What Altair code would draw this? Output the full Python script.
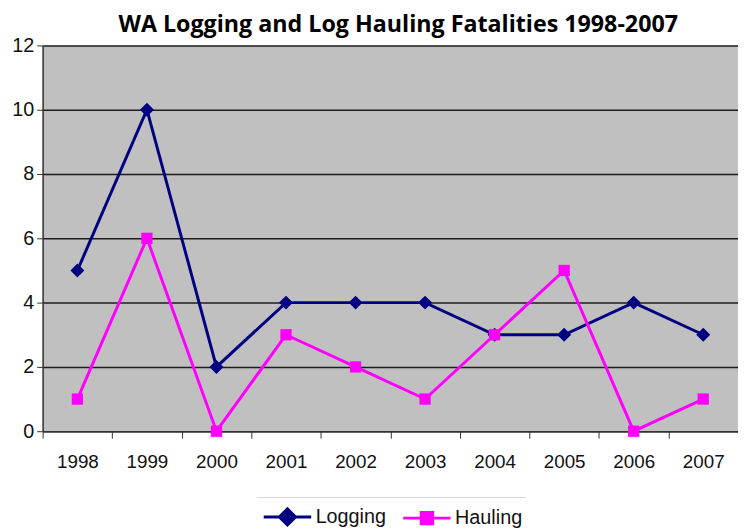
import altair as alt
import pandas as pd

years = ["1998", "1999", "2000", "2001", "2002", "2003", "2004", "2005", "2006", "2007"]
logging = [5, 10, 2, 4, 4, 4, 3, 3, 4, 3]
hauling = [1, 6, 0, 3, 2, 1, 3, 5, 0, 1]
series_names = ["Logging", "Hauling"]
series_colors = ["#000080", "#ff00ff"]
y_ticks = [0, 2, 4, 6, 8, 10, 12]

df = pd.DataFrame({
    "year": years * 2,
    "value": logging + hauling,
    "series": ["Logging"] * len(years) + ["Hauling"] * len(years),
})

FONT = "Liberation Sans"

x_enc = alt.X("year:N", sort=years, title=None,
              scale=alt.Scale(paddingInner=0, paddingOuter=0),
              axis=alt.Axis(labelAngle=0, labelFontSize=19, labelFont=FONT, labelColor="#111",
                            tickBand="extent", tickSize=7, tickColor="#333", tickWidth=1,
                            domainColor="#333", domainWidth=1.5, labelPadding=15, grid=False))
y_enc = alt.Y("value:Q", title=None,
              scale=alt.Scale(domain=[0, 12], nice=False),
              axis=alt.Axis(values=y_ticks, labelFontSize=20, labelFont=FONT, labelColor="#111",
                            tickSize=6, tickColor="#333", domainColor="#333", domainWidth=1.5,
                            labelPadding=3, grid=True, gridColor="#000", gridWidth=1.5,
                            gridOpacity=0.85))

base = alt.Chart(df)

lines = base.mark_line(strokeWidth=3).encode(
    x=x_enc, y=y_enc,
    stroke=alt.Stroke("series:N", scale=alt.Scale(domain=series_names, range=series_colors), legend=None),
    detail="series:N",
)

pts = base.mark_point(filled=True, opacity=1, strokeWidth=0).encode(
    x=x_enc, y=y_enc,
    fill=alt.Fill("series:N", scale=alt.Scale(domain=series_names, range=series_colors), legend=None),
    shape=alt.Shape("series:N", scale=alt.Scale(domain=series_names, range=["diamond", "square"]), legend=None),
    size=alt.Size("series:N", scale=alt.Scale(domain=series_names, range=[200, 130]), legend=None),
)

main = alt.layer(lines, pts)

# legend glyphs: a line with a marker; nested outlines make the marker look solid
legend_paths = [
    "M-1,0H1"
    "M0,-0.34L0.34,0L0,0.34L-0.34,0Z"
    "M0,-0.24L0.24,0L0,0.24L-0.24,0Z"
    "M0,-0.14L0.14,0L0,0.14L-0.14,0Z"
    "M0,-0.05L0.05,0L0,0.05L-0.05,0Z",
    "M-1,0H1"
    "M-0.24,-0.24H0.24V0.24H-0.24Z"
    "M-0.13,-0.13H0.13V0.13H-0.13Z"
    "M-0.03,-0.03H0.03V0.03H-0.03Z",
]
leg = alt.Legend(title="", orient="none", direction="horizontal", legendX=222, legendY=451,
                 labelFontSize=20, labelFont=FONT, labelColor="#111", symbolStrokeWidth=3,
                 symbolSize=2304, labelOffset=3, columnPadding=10)

# invisible in the plot (opacity 0); it only drives the legend
legend_layer = base.mark_point(opacity=0, filled=True, strokeWidth=3).encode(
    x=x_enc, y=y_enc,
    fill=alt.Fill("series:N", scale=alt.Scale(domain=series_names, range=series_colors), legend=leg),
    stroke=alt.Stroke("series:N", scale=alt.Scale(domain=series_names, range=series_colors), legend=leg),
    shape=alt.Shape("series:N", scale=alt.Scale(domain=series_names, range=legend_paths), legend=leg),
)

legend_line = alt.Chart(pd.DataFrame({"k": [0]})).mark_rule(color="#d8d8d8", strokeWidth=1).encode(
    x=alt.value(217), x2=alt.value(489), y=alt.value(457))

chart = alt.layer(main, legend_layer, legend_line).resolve_scale(
    shape="independent", size="independent"
).resolve_legend(
    stroke="independent", fill="independent", shape="independent", size="independent"
).properties(
    width=703, height=390,
    background="white",
    title=alt.TitleParams("WA Logging and Log Hauling Fatalities 1998-2007",
                          font="Open Sans", fontSize=23.5, fontWeight="bold", color="#000",
                          anchor="middle", dx=8, offset=-1),
    autosize=alt.AutoSizeParams(type="none"),
    padding={"left": 35, "top": 35, "right": 0, "bottom": 95},
).configure_view(fill="#c0c0c0", stroke=None)

chart.save("out.html", embed_options={"renderer": "svg", "actions": False})
